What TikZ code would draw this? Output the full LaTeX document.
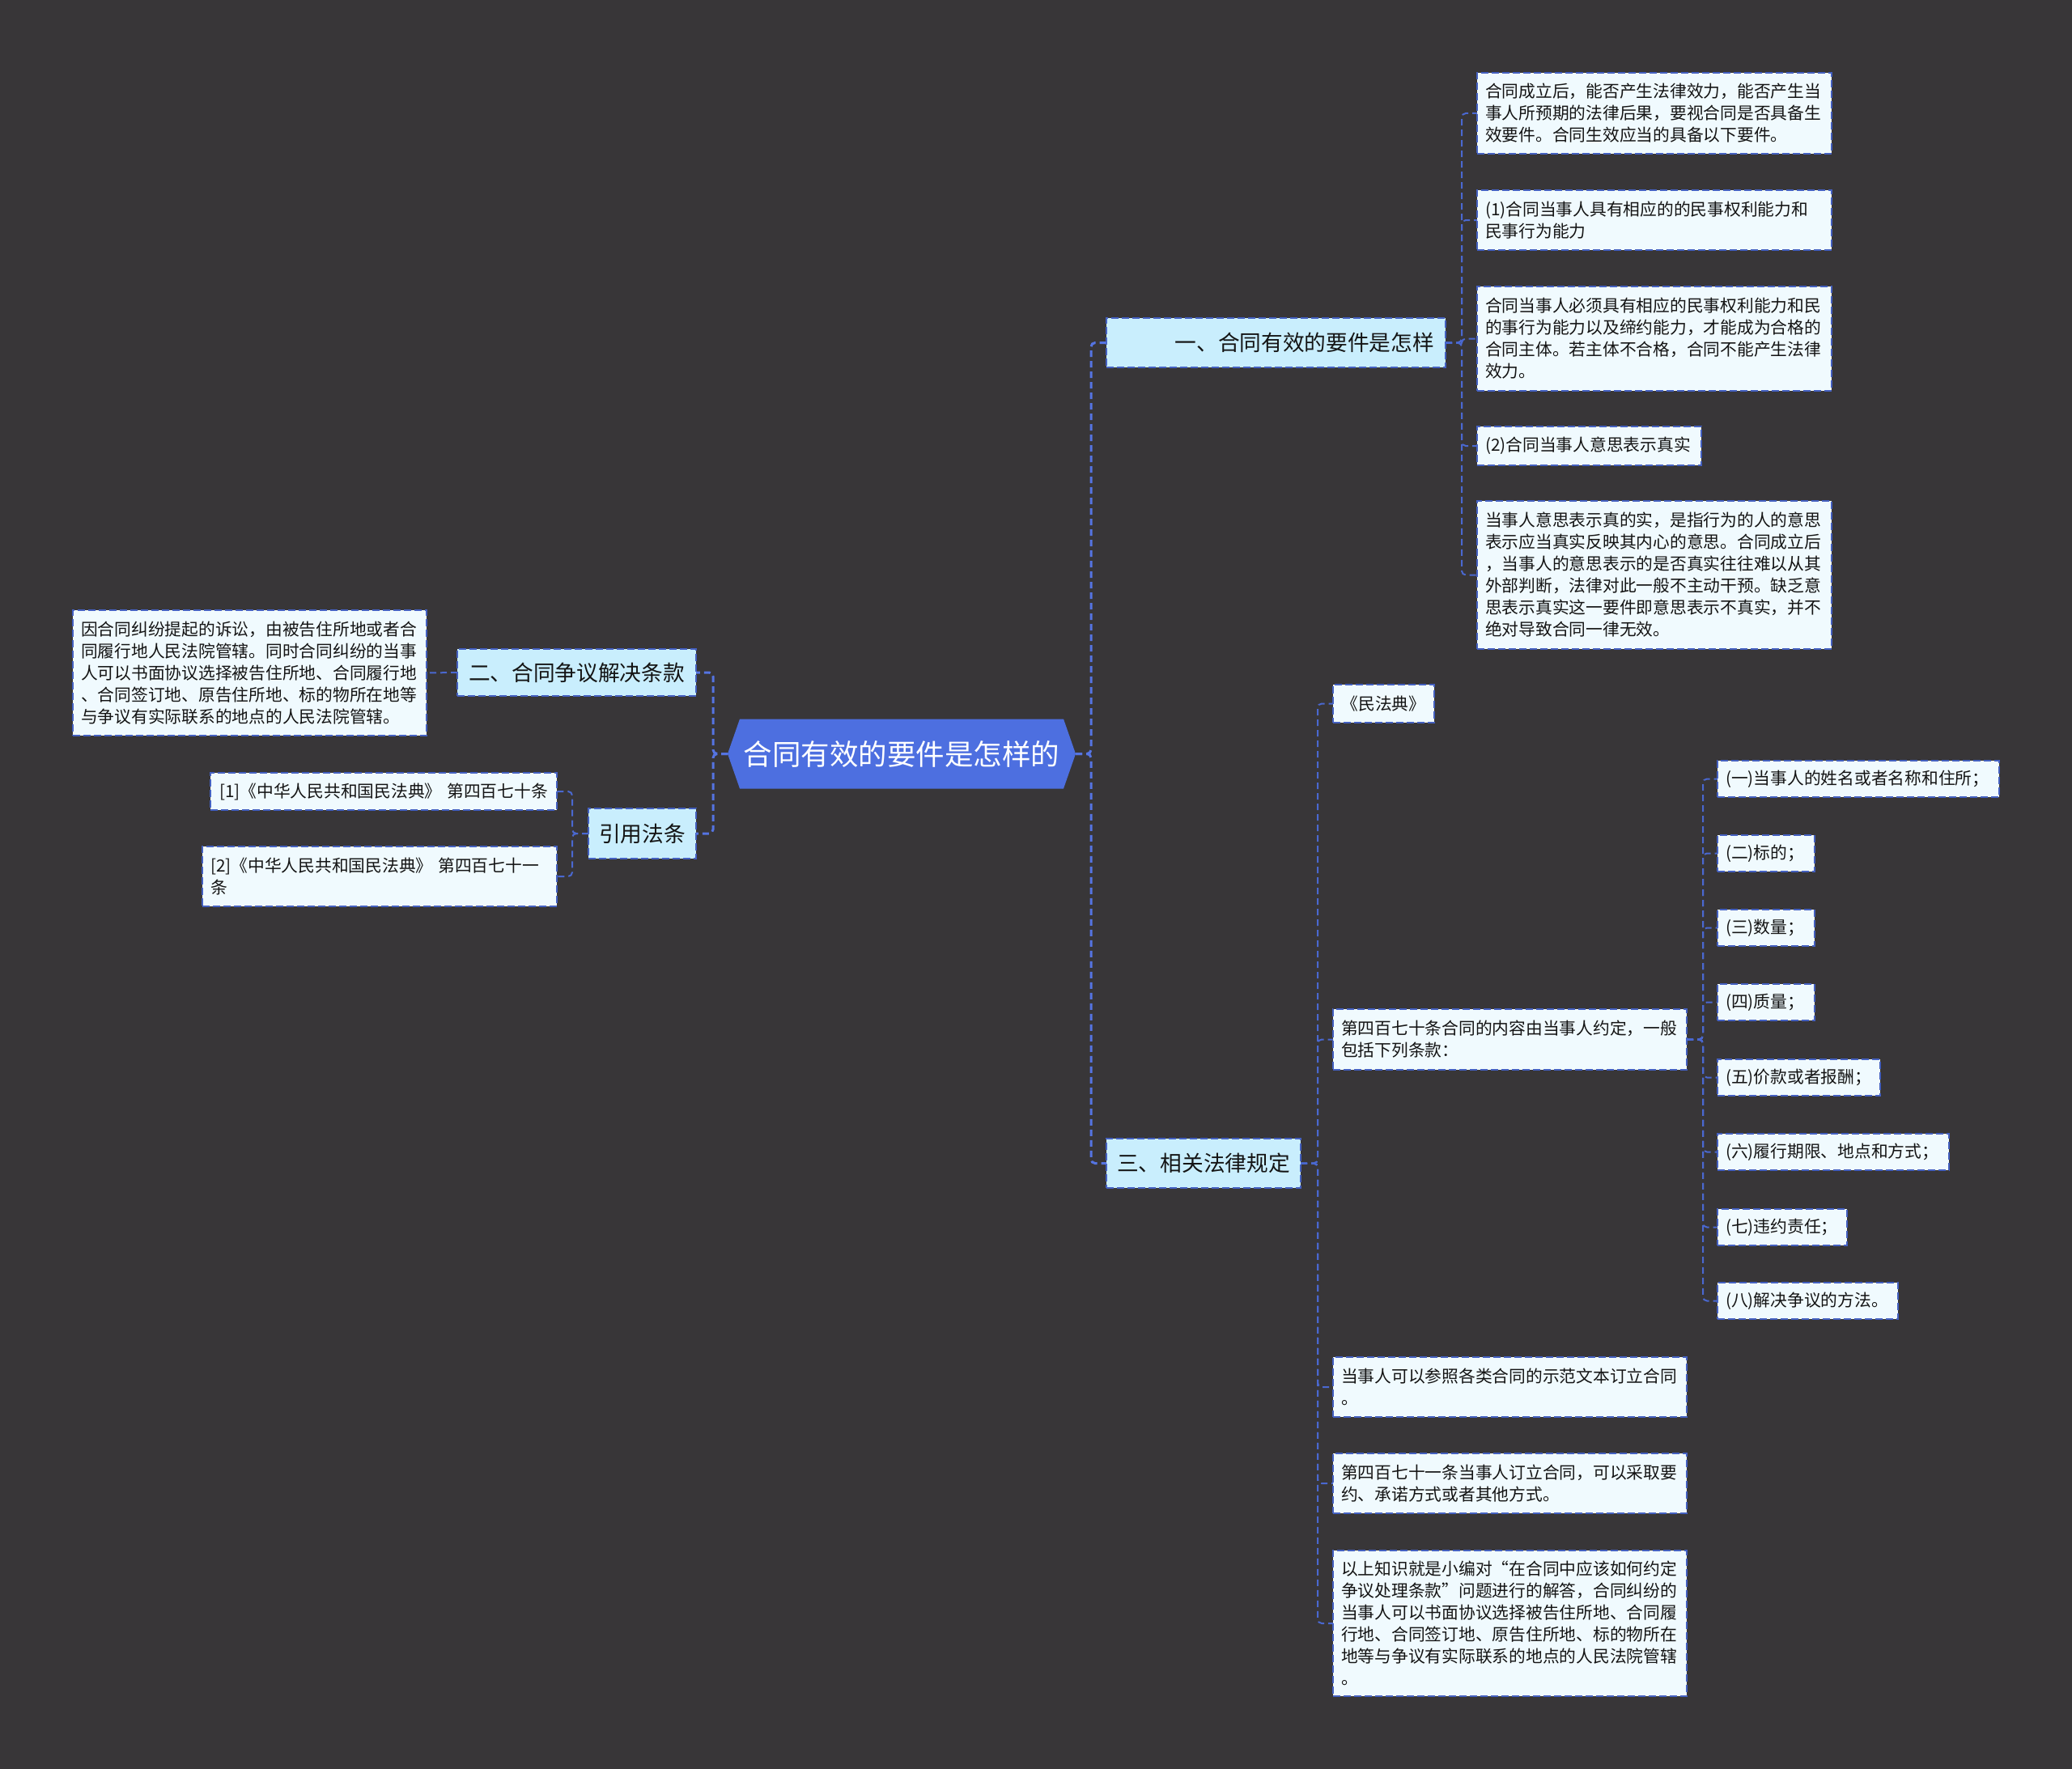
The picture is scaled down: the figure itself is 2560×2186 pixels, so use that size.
\documentclass[tikz,border=0pt]{standalone}
\usepackage{fontspec}
\newfontfamily\cjk{Noto Sans CJK SC}
\usetikzlibrary{backgrounds}
\definecolor{bgc}{HTML}{383638}
\definecolor{leafc}{HTML}{F0FAFE}
\definecolor{lvlc}{HTML}{C9EEFD}
\definecolor{bordc}{HTML}{4460C0}
\definecolor{connc}{HTML}{4A68D0}
\definecolor{rconnc}{HTML}{5574E2}
\definecolor{rootc}{HTML}{4D6FE0}
\definecolor{txtc}{HTML}{141414}
\tikzset{
  box/.style={draw=bordc, line width=2pt, dash pattern=on 9pt off 4pt, anchor=north west,
    outer sep=0pt, text=txtc, font=\cjk\fontsize{20.75}{27}\selectfont, align=left,
    inner ysep=0pt, inner xsep=10pt},
  leaf/.style={box, fill=leafc},
  lvl/.style={box, fill=lvlc, font=\cjk\fontsize{26.7}{32}\selectfont, inner xsep=8pt},
  conn/.style={draw=connc, line width=2pt, dash pattern=on 8pt off 5pt, rounded corners=5pt},
  rconn/.style={draw=rconnc, line width=3pt, dash pattern=on 8pt off 5pt, rounded corners=5pt},
}
\begin{document}
\begin{tikzpicture}[x=1pt,y=-1pt]
\begin{scope}[on background layer]
\fill[bgc] (0,0) rectangle (2560,2186);
\end{scope}
\useasboundingbox (0,0) rectangle (2560,2186);

% root
\node[minimum width=430pt, minimum height=86pt, inner sep=0pt, outer sep=0pt, text=white,
  font=\cjk\fontsize{35.5}{40}\selectfont] (root) at (1114,931.5) {合同有效的要件是怎样的};
\begin{scope}[on background layer]
\fill[rootc] ([xshift=15pt]root.north west) -- ([xshift=-15pt]root.north east) -- (root.east)
  -- ([xshift=-15pt]root.south east) -- ([xshift=15pt]root.south west) -- (root.west) -- cycle;
\end{scope}

% level 1
\node[lvl, minimum width=419pt, minimum height=61pt, text width=391pt, align=right, inner xsep=14pt] (A) at (1367,393) {一、合同有效的要件是怎样};
\node[lvl, minimum width=295pt, minimum height=58pt, text width=279pt, align=center] (B) at (565,802) {二、合同争议解决条款};
\node[lvl, minimum width=133pt, minimum height=62pt, text width=117pt, align=center] (C) at (727,999) {引用法条};
\node[lvl, minimum width=240pt, minimum height=61pt, text width=224pt, align=center] (D) at (1367,1407) {三、相关法律规定};

% A children
\node[leaf, minimum width=438pt, minimum height=100pt, text width=418pt] (a1) at (1825,90)
 {合同成立后，能否产生法律效力，能否产生当\\事人所预期的法律后果，要视合同是否具备生\\效要件。合同生效应当的具备以下要件。};
\node[leaf, minimum width=438pt, minimum height=74pt, text width=418pt] (a2) at (1825,235)
 {(1)合同当事人具有相应的的民事权利能力和\\民事行为能力};
\node[leaf, minimum width=438pt, minimum height=129pt, text width=418pt] (a3) at (1825,354)
 {合同当事人必须具有相应的民事权利能力和民\\的事行为能力以及缔约能力，才能成为合格的\\合同主体。若主体不合格，合同不能产生法律\\效力。};
\node[leaf, minimum width=277pt, minimum height=48pt, text width=257pt] (a4) at (1825,527)
 {(2)合同当事人意思表示真实};
\node[leaf, minimum width=438pt, minimum height=183pt, text width=418pt] (a5) at (1825,619)
 {当事人意思表示真的实，是指行为的人的意思\\表示应当真实反映其内心的意思。合同成立后\\，当事人的意思表示的是否真实往往难以从其\\外部判断，法律对此一般不主动干预。缺乏意\\思表示真实这一要件即意思表示不真实，并不\\绝对导致合同一律无效。};

% B child
\node[leaf, minimum width=437pt, minimum height=155pt, text width=417pt] (b1) at (90,754)
 {因合同纠纷提起的诉讼，由被告住所地或者合\\同履行地人民法院管辖。同时合同纠纷的当事\\人可以书面协议选择被告住所地、合同履行地\\、合同签订地、原告住所地、标的物所在地等\\与争议有实际联系的地点的人民法院管辖。};

% C children
\node[leaf, minimum width=428pt, minimum height=46pt, text width=408pt, align=center] (c1) at (260,955)
 {[1]《中华人民共和国民法典》 第四百七十条};
\node[leaf, minimum width=438pt, minimum height=74pt, text width=418pt] (c2) at (250,1046)
 {[2]《中华人民共和国民法典》 第四百七十一\\条};

% D children
\node[leaf, minimum width=125pt, minimum height=47pt, text width=105pt, align=center] (d1) at (1647,846) {《民法典》};
\node[leaf, minimum width=437pt, minimum height=75pt, text width=417pt] (d2) at (1647,1247)
 {第四百七十条合同的内容由当事人约定，一般\\包括下列条款：};
\node[leaf, minimum width=437pt, minimum height=74pt, text width=417pt] (d3) at (1647,1677)
 {当事人可以参照各类合同的示范文本订立合同\\。};
\node[leaf, minimum width=437pt, minimum height=74pt, text width=417pt] (d4) at (1647,1796)
 {第四百七十一条当事人订立合同，可以采取要\\约、承诺方式或者其他方式。};
\node[leaf, minimum width=437pt, minimum height=180pt, text width=417pt] (d5) at (1647,1916)
 {以上知识就是小编对“在合同中应该如何约定\\争议处理条款”问题进行的解答，合同纠纷的\\当事人可以书面协议选择被告住所地、合同履\\行地、合同签订地、原告住所地、标的物所在\\地等与争议有实际联系的地点的人民法院管辖\\。};

% D2 children
\node[leaf, minimum width=348pt, minimum height=45pt, text width=328pt] (s1) at (2122,940) {(一)当事人的姓名或者名称和住所；};
\node[leaf, minimum width=120pt, minimum height=45pt, text width=100pt] (s2) at (2122,1032) {(二)标的；};
\node[leaf, minimum width=120pt, minimum height=45pt, text width=100pt] (s3) at (2122,1124) {(三)数量；};
\node[leaf, minimum width=120pt, minimum height=45pt, text width=100pt] (s4) at (2122,1216) {(四)质量；};
\node[leaf, minimum width=201pt, minimum height=45pt, text width=181pt] (s5) at (2122,1309) {(五)价款或者报酬；};
\node[leaf, minimum width=286pt, minimum height=45pt, text width=266pt] (s6) at (2122,1401) {(六)履行期限、地点和方式；};
\node[leaf, minimum width=160pt, minimum height=45pt, text width=140pt] (s7) at (2122,1494) {(七)违约责任；};
\node[leaf, minimum width=223pt, minimum height=45pt, text width=203pt] (s8) at (2122,1585) {(八)解决争议的方法。};

% connectors
\draw[rconn] (root.east) -- ++(19,0) |- (A.west);
\draw[rconn] (root.east) -- ++(19,0) |- (D.west);
\draw[rconn] (root.west) -- ++(-18,0) |- (B.east);
\draw[rconn] (root.west) -- ++(-18,0) |- (C.east);
\draw[conn] (B.west) -- (b1.east);
\foreach \n in {c1,c2} \draw[conn] (C.west) -- ++(-20,0) |- (\n.east);
\foreach \n in {a1,a2,a3,a4,a5} \draw[conn] (A.east) -- ++(20,0) |- (\n.west);
\foreach \n in {d1,d2,d3,d4,d5} \draw[conn] (D.east) -- ++(21,0) |- (\n.west);
\foreach \n in {s1,s2,s3,s4,s5,s6,s7,s8} \draw[conn] (d2.east) -- ++(20,0) |- (\n.west);
\end{tikzpicture}
\end{document}
